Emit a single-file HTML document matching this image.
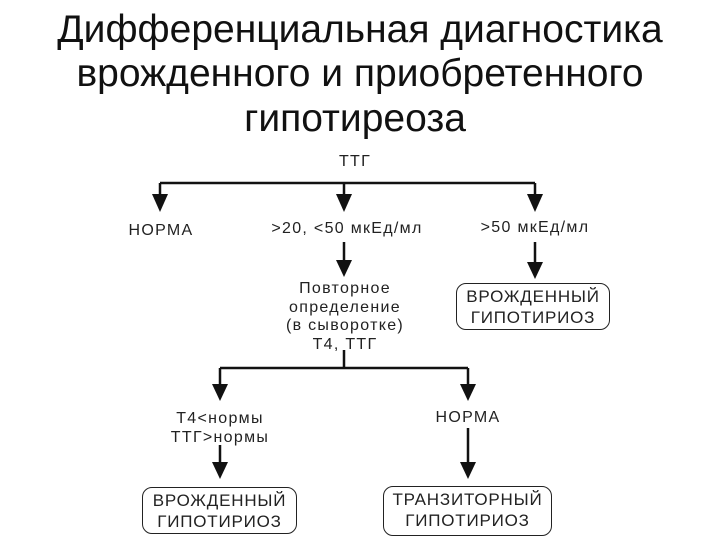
<!DOCTYPE html>
<html><head><meta charset="utf-8"><style>
body{margin:0;width:720px;height:540px;background:#fff;overflow:hidden;position:relative;font-family:"Liberation Sans",sans-serif}
.t{position:absolute;left:0;width:720px;text-align:center;font-size:39px;color:#111;line-height:1}
.l{position:absolute;font-size:16px;color:#222;text-align:center;letter-spacing:1.3px;line-height:1;white-space:nowrap}
.b{position:absolute;border:1.5px solid #222;border-radius:10px;font-size:17px;color:#222;text-align:center;line-height:21px;letter-spacing:0.8px;box-sizing:border-box;padding-top:2px;white-space:nowrap}
</style></head><body>
<div class="t" style="top:10px">Дифференциальная диагностика</div>
<div class="t" style="top:54px">врожденного и приобретенного</div>
<div class="t" style="top:99px;left:-5px">гипотиреоза</div>
<svg width="720" height="540" style="position:absolute;left:0;top:0">
<g stroke="#111" stroke-width="2.5" fill="none">
<path d="M160 183H535M160 183V196M344 183V196M535 183V196"/>
<path d="M344 242V262M535 242V264"/>
<path d="M344 350V368M220 368H468M220 368V386M468 368V386"/>
<path d="M220 445V464M468 428V464"/>
</g>
<g fill="#111">
<path d="M152 194H168L160 212Z"/><path d="M336 194H352L344 212Z"/><path d="M527 194H543L535 212Z"/>
<path d="M336 260H352L344 277Z"/><path d="M527 262H543L535 279Z"/>
<path d="M212 384H228L220 401Z"/><path d="M460 384H476L468 401Z"/>
<path d="M212 462H228L220 479Z"/><path d="M460 462H476L468 479Z"/>
</g>
</svg>
<div class="l" style="left:305px;top:154px;width:100px">ТТГ</div>
<div class="l" style="left:111px;top:223px;width:100px">НОРМА</div>
<div class="l" style="left:247px;top:221px;width:200px">&gt;20, &lt;50 мкЕд/мл</div>
<div class="l" style="left:455px;top:220px;width:160px">&gt;50 мкЕд/мл</div>
<div class="l" style="left:270px;top:280px;width:150px;line-height:18.5px">Повторное<br>определение<br>(в сыворотке)<br>Т4, ТТГ</div>
<div class="b" style="left:456px;top:283px;width:154px;height:47px">ВРОЖДЕННЫЙ<br>ГИПОТИРИОЗ</div>
<div class="l" style="left:145px;top:409px;width:150px;line-height:19px">Т4&lt;нормы<br>ТТГ&gt;нормы</div>
<div class="l" style="left:418px;top:410px;width:100px">НОРМА</div>
<div class="b" style="left:142px;top:487px;width:155px;height:47px">ВРОЖДЕННЫЙ<br>ГИПОТИРИОЗ</div>
<div class="b" style="left:383px;top:486px;width:169px;height:50px">ТРАНЗИТОРНЫЙ<br>ГИПОТИРИОЗ</div>
</body></html>
